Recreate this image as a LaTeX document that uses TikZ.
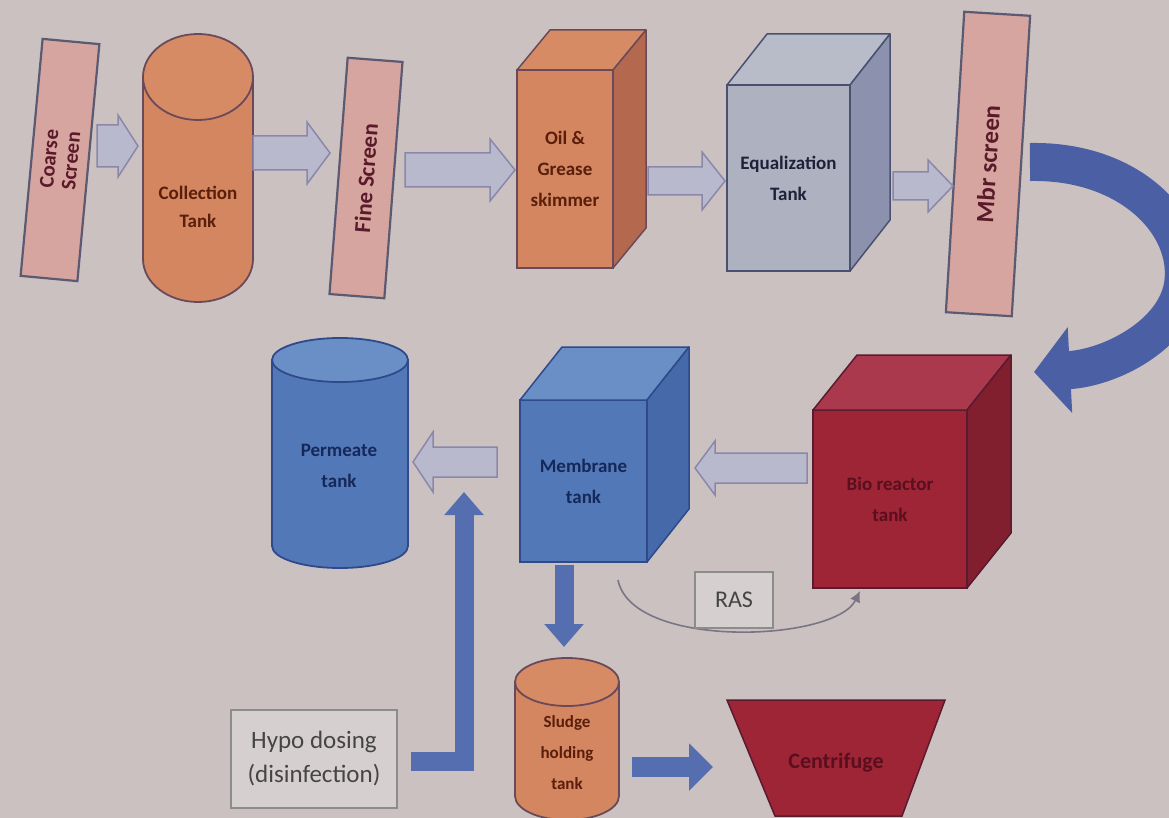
\documentclass[tikz,border=0pt]{standalone}
\usepackage{fontspec}
\setmainfont{Carlito}
\usetikzlibrary{arrows.meta,calc}
\definecolor{bg}{HTML}{CBC1C0}
\definecolor{scrfill}{HTML}{D7A5A0}
\definecolor{scredge}{HTML}{5A5A72}
\definecolor{scrtext}{HTML}{5A1A2A}
\definecolor{orgbody}{HTML}{D3865F}
\definecolor{orgtop}{HTML}{D78B64}
\definecolor{orgedge}{HTML}{6A4A5A}
\definecolor{orgtext}{HTML}{5A1E0A}
\definecolor{ogside}{HTML}{B4694F}
\definecolor{eqfront}{HTML}{AEB2C0}
\definecolor{eqtop}{HTML}{B8BCC8}
\definecolor{eqside}{HTML}{8C92AE}
\definecolor{eqedge}{HTML}{4A5070}
\definecolor{eqtext}{HTML}{1E2238}
\definecolor{bluefront}{HTML}{5378B8}
\definecolor{bluetop}{HTML}{6A8FC6}
\definecolor{blueside}{HTML}{4669AA}
\definecolor{blueedge}{HTML}{2E4A8A}
\definecolor{bluetext}{HTML}{14285A}
\definecolor{redfront}{HTML}{9E2536}
\definecolor{redtop}{HTML}{AA394E}
\definecolor{redside}{HTML}{821F2F}
\definecolor{rededge}{HTML}{5A1A30}
\definecolor{redtext}{HTML}{5A0F1E}
\definecolor{lafill}{HTML}{B9B9CD}
\definecolor{laedge}{HTML}{8A88AA}
\definecolor{dkblue}{HTML}{556EAF}
\definecolor{bigblue}{HTML}{4B5FA5}
\definecolor{boxfill}{HTML}{D6CFCF}
\definecolor{boxedge}{HTML}{8C8C8C}
\definecolor{greytext}{HTML}{454545}
\definecolor{rasline}{HTML}{7A7585}

% cuboid top and side faces attached to a front-face node
\newcommand\cubo[6]{%
  \filldraw[fill=#4, draw=#6, line width=1.5pt, line join=round]
    (#1.north west) -- ++(#2,#3) -- ($(#1.north east)+(#2,#3)$) -- (#1.north east) -- cycle;
  \filldraw[fill=#5, draw=#6, line width=1.5pt, line join=round]
    (#1.north east) -- ++(#2,#3) -- ($(#1.south east)+(#2,#3)$) -- (#1.south east) -- cycle;}
% vertical cylinder: cx, top-center y, bottom-center y, rx, ry, body, top, edge
\newcommand\cylbody[8]{%
  \filldraw[fill=#6, draw=#8, line width=1.8pt]
    (#1-#4,#2) -- (#1-#4,#3) arc[start angle=180,end angle=0,x radius=#4,y radius=#5] -- (#1+#4,#2) -- cycle;
  \filldraw[fill=#7, draw=#8, line width=1.8pt] (#1,#2) ellipse[x radius=#4, y radius=#5];}
% horizontal block arrow: from, to, shaft half, head half, signed head length
\newcommand\harrow[5]{%
  \draw[lightarrow] let \p1=(#1), \p2=(#2) in
    (\x1,{\y1+#3pt}) -- ({\x2-(#5pt)},{\y1+#3pt}) -- ({\x2-(#5pt)},{\y1+#4pt}) -- (\x2,\y1)
    -- ({\x2-(#5pt)},{\y1-#4pt}) -- ({\x2-(#5pt)},{\y1-#3pt}) -- (\x1,{\y1-#3pt}) -- cycle;}

\begin{document}
\begin{tikzpicture}[x=1pt,y=-1pt,
  screen/.style={draw=scredge, fill=scrfill, line width=2.2pt, inner sep=0pt, outer sep=0pt,
    text=scrtext, font=\bfseries\fontsize{23}{25}\selectfont, align=center},
  lbl/.style={font=\bfseries\fontsize{19}{31}\selectfont, align=center, inner sep=0pt, outer sep=0pt},
  lightarrow/.style={fill=lafill, draw=laedge, line width=1.5pt, line join=miter},
  darkarrow/.style={draw=dkblue, line width=19pt, line join=miter, -{Triangle[width=38pt,length=23pt]}},
  bigarrow/.style={draw=bigblue, line width=38pt, -{Triangle[width=84pt,length=36pt]}},
  plainbox/.style={draw=boxedge, fill=boxfill, line width=2.2pt, text=greytext, align=center}
]
\fill[bg] (0,0) rectangle (1169,818);
\useasboundingbox (0,0) rectangle (1169,818);
\clip (0,0) rectangle (1169,818);

% ---- top row ----
\node[screen, rotate=84.7, minimum width=238, minimum height=57, font=\bfseries\fontsize{21}{22}\selectfont] (cs) at (60,160) {Coarse\\Screen};

\cylbody{198}{77}{259}{55}{43}{orgbody}{orgtop}{orgedge}
\node[lbl, text=orgtext, font=\bfseries\fontsize{19}{28}\selectfont] (ct) at (198,207) {Collection\\Tank};

\node[screen, rotate=85.6, minimum width=237, minimum height=55] (fs) at (366,178) {Fine Screen};

\node[lbl, draw=orgedge, fill=orgbody, line width=1.5pt, minimum width=96, minimum height=198, text=orgtext] (og) at (565,169) {Oil \&\\Grease\\skimmer};
\cubo{og}{33}{-40}{orgtop}{ogside}{orgedge}

\node[lbl, draw=eqedge, fill=eqfront, line width=1.5pt, minimum width=123, minimum height=186, text=eqtext] (eq) at (788.5,178) {Equalization\\Tank};
\cubo{eq}{40}{-51}{eqtop}{eqside}{eqedge}

\node[screen, rotate=86.5, minimum width=301, minimum height=66, font=\bfseries\fontsize{25}{27}\selectfont] (ms) at (988,164) {Mbr screen};

% light block arrows
\coordinate (a1s) at (97,146);  \coordinate (a1e) at (138,146);
\coordinate (a2s) at (253,153); \coordinate (a2e) at (330,153);
\coordinate (a3s) at (405,170); \coordinate (a3e) at (515,170);
\coordinate (a4s) at (648,181); \coordinate (a4e) at (725,181);
\coordinate (a5s) at (893,186); \coordinate (a5e) at (953,186);
\coordinate (a6s) at (807,468); \coordinate (a6e) at (695,468);
\coordinate (a7s) at (497,462); \coordinate (a7e) at (413,462);
\harrow{a1s}{a1e}{21}{31}{20}
\harrow{a2s}{a2e}{17}{31}{23}
\harrow{a3s}{a3e}{17}{31}{25}
\harrow{a4s}{a4e}{14}{29}{23}
\harrow{a5s}{a5e}{14}{26}{25}
\harrow{a6s}{a6e}{15}{27}{-20}
\harrow{a7s}{a7e}{15}{30}{-20}

% ---- middle row ----
\node[lbl, draw=rededge, fill=redfront, line width=1.5pt, minimum width=154, minimum height=178, text=redtext] (br) at (890,499) {Bio reactor\\tank};
\cubo{br}{44}{-55}{redtop}{redside}{rededge}

\node[lbl, draw=blueedge, fill=bluefront, line width=1.5pt, minimum width=127, minimum height=162, text=bluetext] (mb) at (583.5,481) {Membrane\\tank};
\cubo{mb}{42}{-53}{bluetop}{blueside}{blueedge}

\cylbody{340}{360}{546}{68}{22}{bluefront}{bluetop}{blueedge}
\node[lbl, text=bluetext] (pt) at (339,466) {Permeate\\tank};

% big curved arrow from Mbr screen to bio reactor
\coordinate (bigend) at (1034,372);
\draw[bigarrow] ($(ms.south)+(9,-4)$) .. controls (1130,160) and (1192,225) .. (1183,285)
  .. controls (1175,335) and (1110,368) .. (bigend);

% RAS return
\coordinate (rass) at (618,580);
\coordinate (rase) at (860,591);
\draw[draw=rasline, line width=1.6pt, -{Latex[length=11pt,width=11pt]}] (rass) .. controls (632,650) and (835,642) .. (rase);
\node[plainbox, minimum width=78, minimum height=56, font=\fontsize{24}{26}\selectfont, inner sep=0pt] (ras) at (734,600) {RAS};

% ---- bottom row ----
\cylbody{567}{682}{796}{52}{24}{orgbody}{orgtop}{orgedge}
\node[lbl, text=orgtext, font=\bfseries\fontsize{17}{31}\selectfont] (sh) at (567,753) {Sludge\\holding\\tank};

\filldraw[fill=redfront, draw=rededge, line width=1.5pt] (727,700) -- (945,700) -- (902,816) -- (775,816) -- cycle;
\node[lbl, text=redtext, font=\bfseries\fontsize{22}{26}\selectfont] (cf) at (836,763) {Centrifuge};

\node[plainbox, minimum width=166, minimum height=98, font=\fontsize{25}{34}\selectfont, inner sep=0pt] (hypo) at (314,759) {Hypo dosing\\(disinfection)};

% dark blue arrows
\coordinate (hs) at (411,761);
\coordinate (hc) at (464,761);
\coordinate (he) at (464,492);
\draw[darkarrow] (hs) -- (hc) -- (he);
\coordinate (ds) at (564,565);
\coordinate (de) at (564,647);
\draw[darkarrow] (ds) -- (de);
\coordinate (cs1) at (632,767);
\coordinate (ce1) at (713,767);
\draw[darkarrow, line width=20pt, -{Triangle[width=46pt,length=24pt]}] (cs1) -- (ce1);
\end{tikzpicture}
\end{document}
